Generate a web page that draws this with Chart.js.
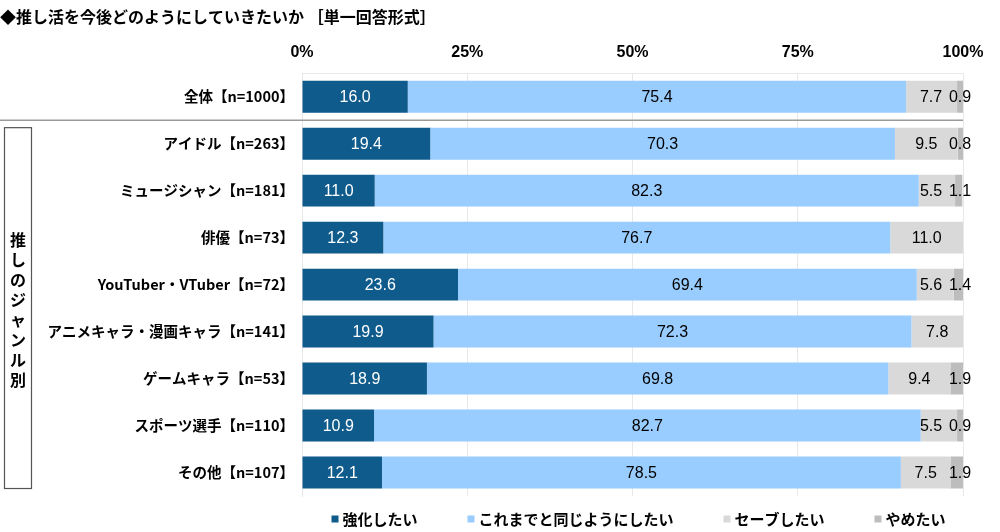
<!DOCTYPE html>
<html>
<head>
<meta charset="utf-8">
<script src="https://cdn.jsdelivr.net/npm/chart.js@4"></script>
<style>
  body { margin: 0; background: #fff; }
  #wrap { width: 1000px; height: 532px; }
</style>
</head>
<body>
<div id="wrap"><canvas id="chart"></canvas></div>
<script>
// 推し活を今後どのようにしていきたいか
const categories = [
  '全体【n=1000】', 'アイドル【n=263】', 'ミュージシャン【n=181】', '俳優【n=73】',
  'YouTuber・VTuber【n=72】', 'アニメキャラ・漫画キャラ【n=141】', 'ゲームキャラ【n=53】',
  'スポーツ選手【n=110】', 'その他【n=107】'
];
const seriesNames = ['強化したい', 'これまでと同じようにしたい', 'セーブしたい', 'やめたい'];
const strengthen = [16.0, 19.4, 11.0, 12.3, 23.6, 19.9, 18.9, 10.9, 12.1];
const keepSame   = [75.4, 70.3, 82.3, 76.7, 69.4, 72.3, 69.8, 82.7, 78.5];
const holdBack   = [7.7, 9.5, 5.5, 11.0, 5.6, 7.8, 9.4, 5.5, 7.5];
const quitIt     = [0.9, 0.8, 1.1, 0, 1.4, 0, 1.9, 0.9, 1.9];
const xTicks = [0, 25, 50, 75, 100];
const groupLabel = '推しのジャンル別';

const colors = ['#0f5b8c', '#99ccff', '#d9d9d9', '#bdbdbd'];
const jpFont = "'Liberation Sans Narrow', 'Noto Sans CJK JP', sans-serif";
const numFont = "'Liberation Sans Narrow', 'Liberation Sans', Arial, sans-serif";

// value labels
const labelPlugin = {
  id: 'valueLabels',
  afterDatasetsDraw(chart) {
    const ctx = chart.ctx;
    const right = chart.chartArea.right;
    ctx.save();
    ctx.font = '16px ' + numFont;
    ctx.textAlign = 'center';
    ctx.textBaseline = 'middle';
    chart.data.datasets.forEach((ds, i) => {
      chart.getDatasetMeta(i).data.forEach((bar, j) => {
        const v = ds.data[j];
        if (!v) return;
        let x = (bar.base + bar.x) / 2;
        if (i == 2 && quitIt[j]) x = Math.min(x, right - 32);
        if (i == 3) x = right - 3;
        ctx.fillStyle = i == 0 ? '#fff' : '#000';
        ctx.fillText(v.toFixed(1), x, bar.y + 1);
      });
    });
    ctx.restore();
  }
};

// separator line, bracket box on the left, legend at the bottom
const extrasPlugin = {
  id: 'extras',
  afterDraw(chart) {
    const ctx = chart.ctx;
    const y = chart.scales.y;
    const area = chart.chartArea;
    ctx.save();
    const sepY = (y.getPixelForValue(0) + y.getPixelForValue(1)) / 2;
    ctx.strokeStyle = '#9a9a9a';
    ctx.lineWidth = 1.5;
    ctx.beginPath();
    ctx.moveTo(0, sepY);
    ctx.lineTo(area.right, sepY);
    ctx.stroke();

    const top = y.getPixelForValue(1) - 16;
    const bottom = y.getPixelForValue(categories.length - 1) + 16;
    ctx.strokeStyle = '#555';
    ctx.lineWidth = 1.2;
    ctx.strokeRect(4.5, top, 27, bottom - top);

    ctx.fillStyle = '#000';
    ctx.font = 'bold 16px ' + jpFont;
    ctx.textAlign = 'center';
    ctx.textBaseline = 'middle';
    const chars = Array.from(groupLabel);
    const step = 20;
    const mid = (top + bottom) / 2 + 2;
    chars.forEach((c, k) => {
      ctx.fillText(c, 18, mid + (k - (chars.length - 1) / 2) * step);
    });

    // legend
    ctx.font = 'bold 15px ' + jpFont;
    ctx.textAlign = 'left';
    const box = 7, gapBox = 4, gapItem = 50;
    const widths = seriesNames.map(s => box + gapBox + ctx.measureText(s).width);
    const total = widths.reduce((a, b) => a + b, 0) + gapItem * (widths.length - 1);
    let lx = (area.left + area.right) / 2 - total / 2 + 6;
    const ly = 519;
    seriesNames.forEach((s, k) => {
      ctx.fillStyle = colors[k];
      ctx.fillRect(lx, ly - box / 2, box, box);
      ctx.fillStyle = '#000';
      ctx.fillText(s, lx + box + gapBox, ly);
      lx += widths[k] + gapItem;
    });
    ctx.restore();
  }
};

new Chart(document.getElementById('chart'), {
  type: 'bar',
  data: {
    labels: categories,
    datasets: [strengthen, keepSame, holdBack, quitIt].map((d, i) => ({
      label: seriesNames[i],
      data: d,
      backgroundColor: colors[i],
      borderWidth: 0,
      barPercentage: 0.68,
      categoryPercentage: 1
    }))
  },
  options: {
    indexAxis: 'y',
    responsive: true,
    maintainAspectRatio: false,
    animation: false,
    layout: { padding: { left: 0, right: 37, top: 0, bottom: 36 } },
    plugins: {
      title: {
        display: true,
        text: '◆推し活を今後どのようにしていきたいか ［単一回答形式］',
        align: 'start',
        color: '#000',
        font: { family: jpFont, size: 16, weight: 'bold' },
        padding: { top: 7, bottom: 7 }
      },
      legend: { display: false },
      tooltip: { enabled: false }
    },
    scales: {
      x: {
        position: 'top',
        stacked: true,
        min: 0,
        max: 100,
        afterBuildTicks(scale) {
          scale.ticks = xTicks.map(v => ({ value: v }));
        },
        afterFit(scale) { scale.height = 40; },
        ticks: {
          callback: v => v + '%',
          color: '#000',
          padding: 11,
          font: { family: numFont, size: 16, weight: 'bold' }
        },
        grid: { color: '#e8e8e8', drawTicks: false },
        border: { display: true, color: '#e8e8e8' }
      },
      y: {
        stacked: true,
        afterFit(scale) { scale.width = 302; },
        ticks: {
          color: '#000',
          padding: 0,
          font: { family: jpFont, size: 14.5, weight: 'bold' }
        },
        grid: { display: false },
        border: { color: '#e8e8e8' }
      }
    }
  },
  plugins: [labelPlugin, extrasPlugin]
});
</script>
</body>
</html>
